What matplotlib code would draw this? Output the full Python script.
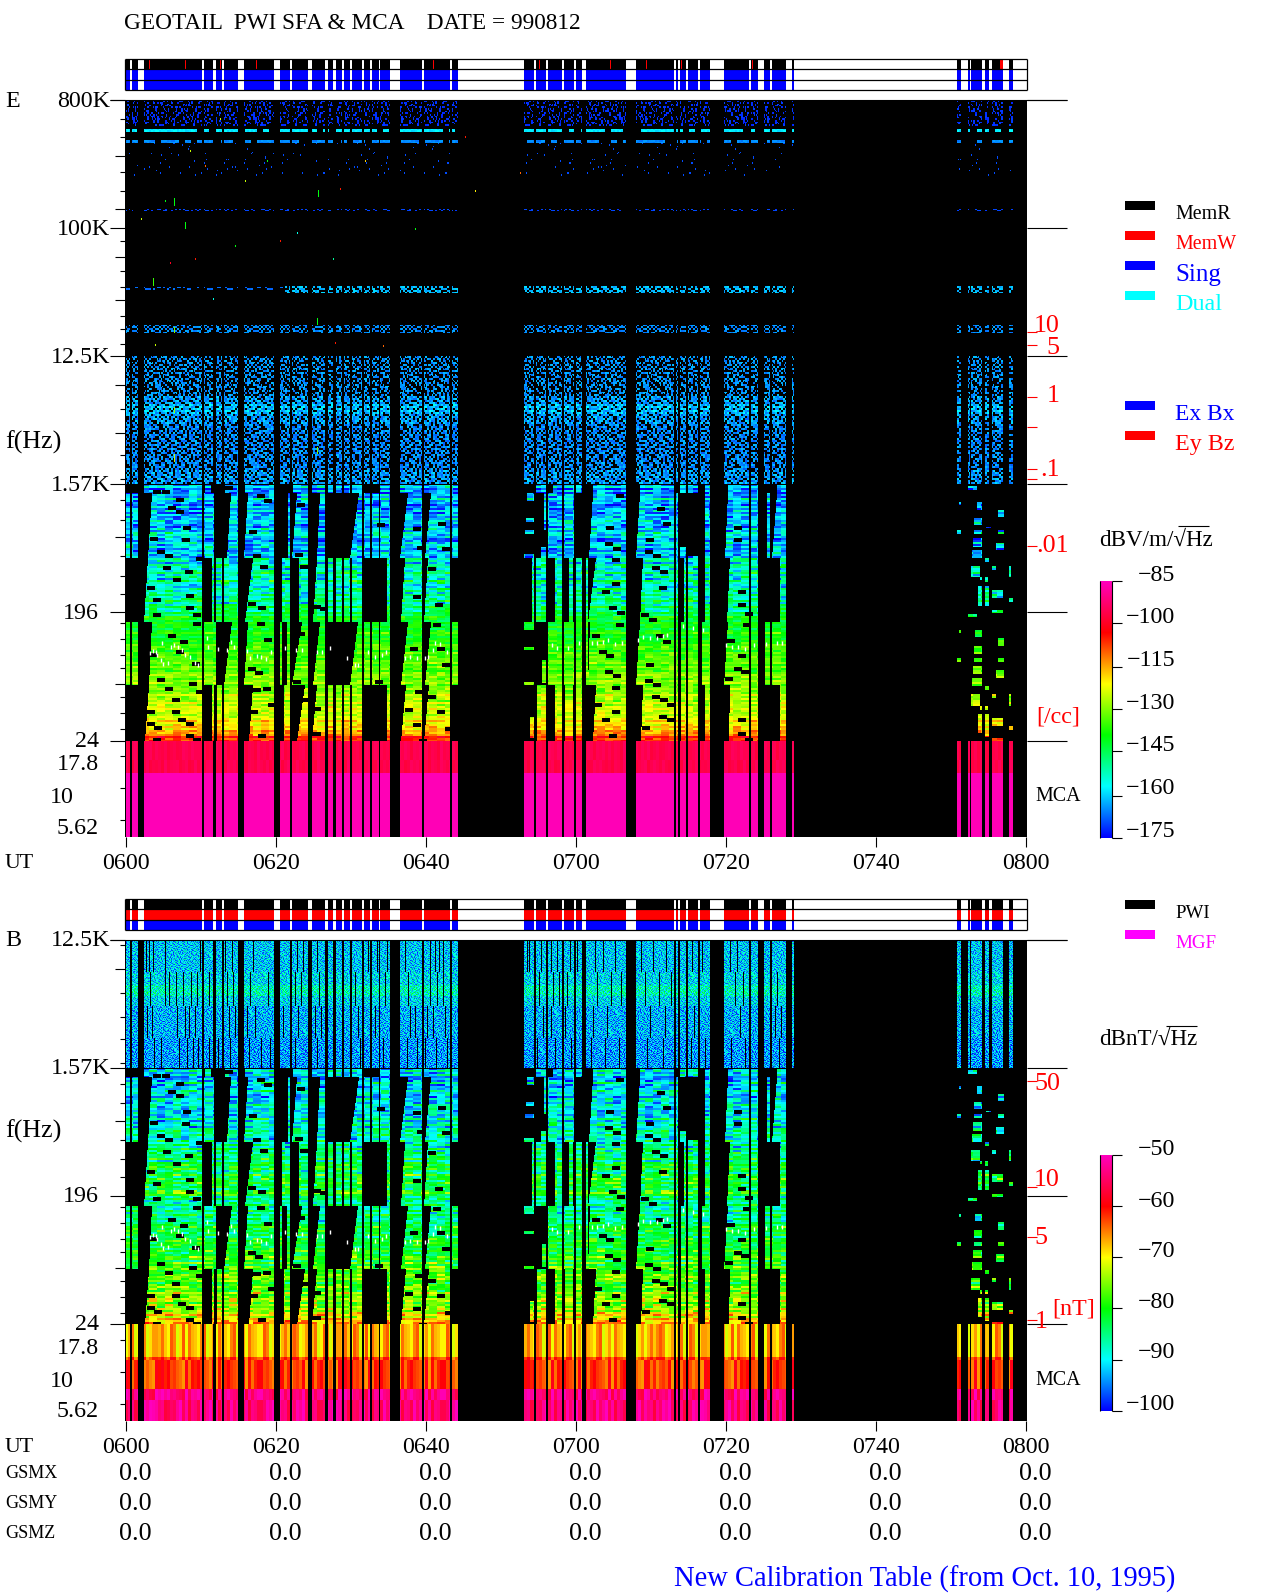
#!/usr/bin/env python3
"""GEOTAIL PWI SFA & MCA daily spectrogram, 990812 (two panels: E and B)."""
import numpy as np
import matplotlib
matplotlib.use("Agg")
import matplotlib.pyplot as plt
from matplotlib.colors import LinearSegmentedColormap

FONT = ["Liberation Serif", "DejaVu Serif"]

# one column = one 8 s sample, 0 = 0600 UT, 900 = 0800 UT
# telemetry on-intervals read off the MCA strips
on_first = [(1, 4), (7, 12), (19, 76), (79, 87), (91, 96), (99, 112), (119, 148), (155, 156),
            (157, 164), (167, 182), (187, 199), (203, 207), (211, 216), (219, 224), (227, 236),
            (239, 244), (247, 253), (255, 264), (275, 296), (299, 324), (327, 332)]
on_second = [(399, 408), (411, 420), (423, 436), (439, 448), (451, 456), (461, 462), (463, 500),
             (511, 548), (551, 552), (555, 560), (563, 572), (575, 584), (599, 623), (626, 632),
             (639, 644), (647, 660), (667, 668)]
on_third = [(832, 833), (834, 835), (843, 844), (846, 851), (852, 853), (854, 856), (860, 863),
            (867, 870), (871, 877), (884, 885), (886, 887)]
memw_cols = [24, 60, 95, 131, 308, 414, 485, 521, 556, 627, 875]

# sweep availability below 1.57K, per tier: (start_top, start_bottom, end) or (start, end)
tier_rows = [(485, 493), (493, 558), (558, 622), (622, 685), (685, 741)]
tier0 = [(19, 76), (80, 85), (100, 112), (120, 148), (168, 182), (187, 199), (203, 207),
         (211, 216), (219, 224), (227, 236), (255, 264), (275, 296), (299, 324), (327, 332),
         (411, 420), (428, 436), (439, 448), (451, 456), (468, 500), (515, 548), (555, 560),
         (563, 572), (580, 584), (603, 623), (626, 632), (652, 660)]
tier1 = [(1, 4), (7, 12), (27, 23, 76), (79, 88), (106, 102, 112), (123, 119, 148), (163, 164),
         (172, 167, 182), (195, 192, 199), (234, 225, 236), (239, 244), (247, 253), (255, 264),
         (283, 275, 296), (306, 300, 324), (327, 332),
         (423, 436), (439, 448), (468, 464, 500), (515, 511, 548), (551, 552), (580, 584),
         (603, 600, 623), (626, 632), (642, 644), (652, 647, 660)]
tier2 = [(23, 19, 76), (87, 88), (91, 96), (99, 112), (128, 120, 148), (157, 164), (174, 182),
         (192, 188, 199), (203, 207), (211, 216), (219, 224), (227, 236), (262, 264),
         (280, 276, 296), (303, 299, 324),
         (407, 408), (411, 420), (430, 436), (444, 447), (451, 456), (461, 462), (471, 463, 500),
         (518, 515, 548), (551, 552), (559, 560), (563, 572), (580, 584), (605, 602, 623),
         (626, 632), (655, 660)]
tier3 = [(1, 4), (7, 12), (27, 24, 76), (79, 90), (107, 99, 112), (123, 119, 148), (155, 156),
         (162, 164), (177, 167, 182), (195, 188, 199), (233, 225, 236), (239, 244), (247, 253),
         (255, 264), (283, 276, 296), (306, 300, 324), (327, 332),
         (423, 436), (439, 448), (451, 456), (461, 462), (465, 463, 500), (515, 511, 548),
         (551, 552), (556, 560), (563, 572), (577, 584), (603, 599, 623), (626, 632),
         (640, 644), (647, 660)]
tier4 = [(24, 20, 76), (87, 88), (92, 96), (99, 112), (128, 124, 148), (159, 164), (180, 172, 182),
         (192, 187, 199), (203, 207), (211, 216), (219, 224), (227, 236), (262, 264),
         (281, 276, 296), (304, 299, 324),
         (412, 420), (430, 436), (440, 447), (451, 456), (471, 468, 500), (518, 516, 548),
         (551, 552), (556, 560), (563, 572), (580, 584), (605, 604, 623), (626, 632), (655, 660)]
sweep_tiers = [tier0, tier1, tier2, tier3, tier4]

# isolated sweep blocks: col0, col1, row0, row1 (rows in E panel pixels)
sweep_blocks = [(402, 408, 493, 501), (401, 408, 518, 522), (400, 408, 530, 534), (399, 408, 554, 558),
                (419, 420, 493, 530), (416, 420, 547, 558), (555, 560, 547, 558), (563, 572, 556, 558),
                (399, 408, 622, 630), (399, 408, 647, 650), (399, 408, 682, 685), (417, 420, 660, 683),
                (405, 408, 717, 738),
                (843, 851, 486, 490), (852, 856, 502, 510), (834, 835, 502, 505), (873, 878, 510, 517),
                (849, 856, 518, 525), (861, 865, 527, 528), (832, 835, 530, 534), (849, 856, 530, 534),
                (873, 878, 530, 534), (848, 856, 538, 547), (871, 878, 543, 550), (847, 856, 550, 558),
                (860, 863, 558, 562), (846, 854, 566, 577), (867, 870, 566, 570), (884, 885, 566, 577),
                (855, 856, 577, 580), (860, 862, 577, 582), (853, 856, 586, 606), (860, 863, 586, 606),
                (867, 877, 590, 598), (867, 877, 610, 613), (884, 887, 598, 602),
                (843, 851, 614, 617), (834, 835, 630, 633), (850, 856, 630, 637), (873, 878, 638, 646),
                (849, 856, 646, 654), (832, 835, 658, 662), (849, 856, 658, 662), (873, 878, 658, 662),
                (848, 856, 666, 674), (871, 878, 670, 678), (847, 856, 678, 686), (860, 863, 686, 690),
                (846, 854, 694, 706), (867, 870, 694, 698), (884, 885, 694, 706), (855, 856, 706, 710),
                (860, 862, 706, 710), (853, 856, 714, 733), (860, 863, 714, 737), (867, 877, 718, 726),
                (867, 877, 738, 741), (884, 887, 726, 730)]

# small telemetry dropouts in the sweep: col, row (each about 8 x 4 pixels)
dropout_cols = [28, 37, 51, 43, 51, 58, 25, 57, 32, 40, 71, 38, 60, 48, 22, 61, 28, 61, 28, 68,
                68, 43, 55, 51, 25, 67, 32, 64, 40, 71, 47, 22, 47, 53, 22, 61, 29, 61, 28, 68,
                132, 139, 124, 128, 135, 123, 133, 132, 139, 123, 130, 128, 138, 143, 125, 133,
                288, 313, 317, 292, 303, 288, 310, 308, 312, 285, 317, 290, 303, 312, 280, 288, 320, 294,
                100, 172, 170, 175, 172, 168, 177, 188, 195, 188, 188, 252, 250,
                491, 481, 480, 488, 487, 487, 477, 484, 492, 491, 467, 474, 481, 480, 488, 487, 469, 487, 477, 484,
                532, 538, 521, 520, 528, 527, 535, 534, 516, 524, 531, 538, 521, 520, 528, 527, 535, 542, 534, 542, 517,
                609, 609, 613, 613, 620, 618, 602, 613, 609, 616, 600, 613, 613, 620]
dropout_rows = [490, 490, 498, 506, 510, 526, 537, 538, 550, 554, 557, 566, 570, 578, 586, 594, 598, 606, 613, 613,
                622, 634, 640, 650, 653, 662, 678, 682, 687, 690, 698, 710, 710, 718, 722, 722, 726, 734, 738, 738,
                494, 499, 530, 554, 565, 602, 606, 622, 638, 667, 671, 688, 687, 703, 710, 734,
                527, 522, 547, 546, 567, 595, 603, 623, 647, 647, 663, 690, 695, 710, 708, 723, 727, 739,
                486, 503, 553, 565, 632, 680, 698, 605, 607, 707, 732, 523, 680,
                494, 526, 542, 547, 558, 582, 590, 606, 611, 623, 634, 650, 654, 670, 674, 686, 703, 710, 718, 734,
                507, 522, 538, 550, 554, 566, 570, 586, 613, 618, 634, 640, 663, 679, 683, 695, 698, 703, 715, 718, 726,
                526, 538, 590, 603, 612, 623, 639, 654, 667, 670, 677, 718, 732, 738]

# mean level of the sweep, every 4 pixels from 1.57K down to 24 Hz [dB]
e_sweep_db = [-160, -163, -165, -160,
              -163, -166, -160, -164, -158, -165, -161, -163, -157, -162, -160, -156, -161, -158, -155,
              -157, -153, -158, -151, -155, -150, -154, -149, -152, -147, -150, -148, -146,
              -143, -141, -143, -139, -141, -138, -139, -137, -137, -135, -136, -133, -134, -132, -133, -131,
              -131, -131, -129, -130, -127, -128, -126, -126, -124, -124, -122, -121, -119, -116, -112, -106]
b_sweep_db = [-91, -89, -92, -89,
              -90, -91, -89, -91, -88, -90, -89, -90, -87, -89, -88, -87, -88, -86, -87,
              -86, -85, -87, -84, -85, -83, -84, -82, -83, -82, -81, -82, -80,
              -85, -86, -87, -85, -86, -84, -85, -83, -84, -82, -83, -81, -82, -80, -81, -80,
              -80, -80, -79, -79, -78, -78, -77, -77, -76, -76, -75, -74, -73, -72, -70, -68]

# texture only: single pixels cannot be recovered, so this table is typed by hand, not measured
speckle_tile = [
    "3807152946691875204913378256149937286514093128765049382716053",
    "7142690358817426035129749663502184960758271640935172849036125",
    "0596283147209563814350926781470292638974502968314075296381479",
    "6218475903342087599364118759436421075903164287509316428756963",
    "2970361584797136158029703665842970391854279036185427903618542",
    "8453109726145380972684131097968453209276854319072685431907268",
    "1386927450638692145013869874501326927054183692705418369270541",
    "9724065813072406581397940658139024065183927460518392746051839",
    "4061738295906173229540617082954861738925460138925460138925460",
    "5839214067283921406758392740675339214706538914706538914706538",
    "2615890734861599073426158307342015890374621589037462158903746",
    "7390546128139054612873305461287890546218793054621879305462187",
    "0948372561794837456109483125610348372651098437265109843726510",
    "6274108395027410839562741983956974108935672410893567241089356",
    "3581697204658169320435816072043181697024315869702431586970243",
    "8106423579310642757981064835798506423759861042375986104237598",
    "1759280346475928134617592303461259280436157928043615792804361",
    "4923765018892376201849237950184323765108429376510842937651084",
    "9467031852146703585294670718529067031582964703158296470315829"]

# thin black verticals above 1.57K in the B panel, one list per tier
b_thin_1 = [21, 24, 28, 40, 75, 90, 100, 107, 128, 172, 178, 192, 200, 210, 225, 243, 252, 262, 280, 305,
            310, 314, 318, 402, 404, 416, 426, 432, 445, 452, 470, 478, 490, 516, 528, 541, 567, 577, 605, 612]
b_thin_2 = [25, 40, 44, 51, 58, 66, 72, 84, 102, 108, 125, 143, 170, 176, 194, 230, 260, 283, 305, 312,
            318, 414, 428, 434, 442, 472, 486, 496, 520, 534, 546, 610, 618, 652]
b_thin_3 = [22, 27, 52, 60, 64, 70, 88, 104, 110, 122, 130, 158, 173, 190, 196, 233, 250, 285, 290, 302,
            308, 320, 418, 426, 440, 468, 482, 510, 525, 540, 569, 615, 650, 656]
b_thin_4 = [29, 36, 54, 62, 68, 73, 84, 93, 105, 124, 136, 145, 170, 192, 235, 258, 282, 292, 300, 311,
            322, 412, 430, 446, 466, 480, 494, 522, 538, 566, 580, 606, 620, 654]

# isolated bright specks in the E panel: col, row, height, dB
speck_cols = [49, 60, 193, 28, 49, 192, 49, 192, 49, 65, 80, 95, 142, 40, 120, 172, 215, 240, 16, 45, 110, 155, 290, 340, 70, 208, 210, 258, 350, 88, 30, 395]
speck_rows = [198, 222, 190, 278, 327, 318, 407, 447, 454, 150, 165, 118, 160, 200, 180, 232, 188, 160, 218, 262, 245, 240, 228, 136, 258, 258, 342, 345, 190, 298, 344, 172]
speck_high = [8, 7, 7, 8, 6, 7, 6, 7, 8, 2, 2, 2, 2, 2, 2, 2, 2, 2, 2, 2, 2, 2, 2, 2, 2, 2, 2, 2, 2, 2, 2, 2]
speck_db = [-140, -140, -140, -135, -130, -140, -128, -130, -125, -125, -110, -125, -140, -140, -125, -155, -105, -118, -125, -100, -140, -105, -140, -105, -105, -150, -105, -110, -120, -155, -125, -110]

# white plasma line dots (E rows, B rows are 584 lower)
white_cols = [25, 28, 31, 32, 37, 36, 38, 43, 46, 49, 53, 57, 60, 65, 70, 73, 82, 83, 93, 102, 106, 109,
              122, 125, 132, 136, 141, 146, 160, 171, 177, 192, 197, 205, 222, 230, 233, 243, 250, 257, 261,
              280, 285, 292, 300, 303, 308, 310, 315, 322,
              427, 432, 443, 454, 467, 472, 478, 483, 490, 497, 513, 518, 525, 532, 538, 542, 558, 568, 578,
              601, 607, 613, 620, 629, 641, 652, 657]
white_rows = [653, 651, 652, 655, 643, 660, 664, 663, 647, 645, 647, 650, 655, 657, 663, 665, 638, 647, 649, 650, 642, 647,
              651, 658, 656, 657, 659, 652, 648, 650, 650, 652, 652, 648, 658, 665, 665, 652, 657, 655, 652,
              658, 657, 658, 658, 657, 650, 643, 644, 652,
              645, 648, 648, 643, 643, 643, 642, 640, 644, 643, 640, 637, 638, 638, 636, 635, 626, 628, 630,
              645, 647, 647, 649, 645, 644, 643, 643]

# scales
time_labels = ["0600", "0620", "0640", "0700", "0720", "0740", "0800"]
e_freq_labels = ["800K", "100K", "12.5K", "1.57K", "196", "24", "17.8", "10", "5.62"]
b_freq_labels = ["12.5K", "1.57K", "196", "24", "17.8", "10", "5.62"]
e_db_ticks = [-85, -100, -115, -130, -145, -160, -175]
b_db_ticks = [-50, -60, -70, -80, -90, -100]
e_density_labels = ["10", "5", "1", ".1", ".01"]
b_field_labels = ["50", "10", "5", "1"]
e_minor_long = [156, 209, 257, 300, 385, 433, 537, 684]
e_minor_short = [119, 137, 172, 191, 241, 271, 287, 316, 329, 344, 409, 455, 479, 500, 520, 556, 576, 594,
                 623, 639, 655, 668, 697, 713, 729, 756, 788, 820]
b_minor_long = [969, 1121, 1268]
b_minor_short = [945, 993, 1017, 1039, 1063, 1084, 1103, 1140, 1159, 1177, 1207, 1223, 1239, 1252, 1281, 1297, 1313,
                 1340, 1372, 1404]

W = 902
X0 = 125.0
E_TOP, E_BOTTOM = 100, 837
B_TOP, B_BOTTOM = 940, 1421
B_SHIFT = 584

all_on = on_first + on_second + on_third
on_mask = np.zeros(W, dtype=bool)
for a, b in all_on:
    on_mask[a:b + 1] = True

tile = np.array([[int(c) for c in s] for s in speckle_tile])


def speckle(rows, cell_w, cell_h, shift=0):
    # look the hand typed tile up on a coarser grid, slid along on each repeat
    rr = rows // cell_h
    cc = np.arange(W) // cell_w
    nr, nc = tile.shape
    r_idx = (rr + shift) % nr
    c_idx = (cc[None, :] + 7 * (rr[:, None] // nr) + shift) % nc
    return tile[r_idx[:, None], c_idx]


def sweep_mask():
    # rows 484..740 in E pixels
    rows = np.arange(484, 741)
    mask = np.zeros((len(rows), W), dtype=bool)
    for (y0, y1), tier in zip(tier_rows, sweep_tiers):
        for y in range(y0, y1):
            frac = (y - y0) / (y1 - y0)
            for item in tier:
                if len(item) == 2:
                    a, b = item
                else:
                    a = int(round(item[0] + (item[1] - item[0]) * frac))
                    b = item[2]
                mask[y - 484, a:b + 1] = True
    for c0, c1, y0, y1 in sweep_blocks:
        mask[y0 - 484:y1 - 484, c0:c1 + 1] = True
    for c, y in zip(dropout_cols, dropout_rows):
        mask[max(y - 484, 0):y - 480, c:c + 8] = False
    return mask


low_mask = sweep_mask()


def sweep_field(levels, gain_top, gain_low, shift):
    rows = np.arange(0, 257)
    base = np.array(levels + levels[-1:], dtype=float)[np.minimum(rows // 4, 64)]
    stripes = speckle(rows, 3, 2, shift)[:, :1]  # row wide stripes
    blocks = speckle(rows, 8, 2, shift + 11)     # 8 pixel sweep blocks
    coarse = speckle(rows, 8, 12, shift + 23)
    gain = np.where(rows < 128, gain_top, gain_low)[:, None]
    field = base[:, None] + gain * (0.7 * (stripes - 4.5) + 0.8 * (blocks - 4.5) + 0.5 * (coarse - 4.5))
    field[~low_mask] = np.nan
    return field


def build_e():
    img = np.full((E_BOTTOM - E_TOP, W), np.nan)
    rows = np.arange(E_TOP, E_BOTTOM)
    tex = speckle(rows, 2, 2)
    tex2 = speckle(rows, 1, 3, 29)
    dash = speckle(rows, 6, 4, 5)
    on = np.tile(on_mask, (len(rows), 1))

    def paint(y0, y1, keep, db, gain=0.6):
        sel = np.zeros_like(on)
        sel[y0 - E_TOP:y1 - E_TOP] = True
        sel &= on & keep
        img[sel] = (db + gain * tex)[sel]

    paint(100, 126, (tex >= 6) & (tex2 >= 3), -176.0)
    paint(129, 132, dash >= 2, -160.0, 0.4)
    paint(140, 143, dash >= 3, -167.0, 0.4)
    paint(143, 176, (tex == 9) & (tex2 >= 8), -175.0)
    paint(209, 211, tex >= 7, -175.0)
    late = np.zeros_like(on)
    late[:, 160:] = True
    paint(286, 293, (tex >= 4) & late, -168.0, 1.0)
    paint(287, 290, (tex >= 7) & ~late, -172.0)
    paint(325, 333, tex >= 5, -172.0, 1.0)
    paint(356, 396, (tex >= 5) & (tex2 >= 1), -174.0, 1.4)
    paint(396, 404, tex >= 3, -172.0, 1.4)
    paint(404, 414, tex >= 2, -169.0, 1.4)
    paint(414, 424, tex >= 3, -172.0, 1.4)
    paint(424, 470, tex >= 4, -174.0, 1.4)
    paint(470, 484, tex >= 3, -172.0, 1.4)

    for c, y, h, db in zip(speck_cols, speck_rows, speck_high, speck_db):
        img[y - E_TOP:y - E_TOP + h, c:c + 1] = db

    low = sweep_field(e_sweep_db, 2.2, 1.2, 0)
    img[484 - E_TOP:741 - E_TOP] = low

    # MCA strips
    strip = speckle(rows, 3, 40, 2)
    img[741 - E_TOP:773 - E_TOP] = (-97.5 + 0.35 * strip)[741 - E_TOP:773 - E_TOP]
    img[773 - E_TOP:] = -86.0
    img[741 - E_TOP:, ~on_mask] = np.nan
    return img


def build_b():
    img = np.full((B_BOTTOM - B_TOP, W), np.nan)
    rows = np.arange(B_TOP, B_BOTTOM)
    tex = speckle(rows, 1, 1, 17)
    tiers = [(940, 972, -98.0, b_thin_1), (972, 1006, -97.0, b_thin_2),
             (1006, 1038, -99.0, b_thin_3), (1038, 1068, -100.0, b_thin_4)]
    for y0, y1, db, thin in tiers:
        part = img[y0 - B_TOP:y1 - B_TOP]
        part[:] = (db + 1.4 * tex)[y0 - B_TOP:y1 - B_TOP]
        part[:, thin] = np.nan
    img[985 - B_TOP:996 - B_TOP] += 3.0
    img[1068 - B_TOP:1325 - B_TOP] = sweep_field(b_sweep_db, 1.3, 1.2, 31)[:257]

    strip = speckle(rows, 3, 40, 9)
    img[1324 - B_TOP:1357 - B_TOP] = (-71.5 + 0.9 * strip)[1324 - B_TOP:1357 - B_TOP]
    img[1357 - B_TOP:1389 - B_TOP] = (-66.0 + 0.8 * strip)[1357 - B_TOP:1389 - B_TOP]
    img[1389 - B_TOP:] = (-57.0 + 0.8 * strip)[1389 - B_TOP:]
    off_low = np.where(~on_mask)[0]
    img[:1068 - B_TOP, off_low] = np.nan
    img[1324 - B_TOP:, off_low] = np.nan
    return img


def px(size):
    return size * 72.0 / 100.0


def label(ax, x, y, s, color="black", size=24, ha="center"):
    ax.text(x, y, s, color=color, fontsize=px(size), ha=ha, va="center_baseline", family=FONT)


def status_bar(ax, top, colors, memw=False):
    row_h = 10.3
    spans = [(X0 + a, b - a + 1) for a, b in all_on]
    for i, color in enumerate(colors):
        ax.broken_barh(spans, (top + i * row_h, row_h), facecolors=color, linewidth=0)
    if memw:
        ax.broken_barh([(X0 + c, 3 if c == 875 else 1) for c in memw_cols], (top, row_h),
                       facecolors="#ff0000", linewidth=0)
    ax.hlines([top + i * row_h for i in range(4)], X0, X0 + W, color="black", lw=0.9)
    ax.vlines([X0, X0 + W], top, top + 3 * row_h, color="black", lw=0.9)


def colorbar(ax, top, bottom, vmin, vmax, ticks, tick_rows, label_rows):
    grad = np.linspace(vmax, vmin, 256)[:, None]
    ax.imshow(grad, cmap=cmap, vmin=vmin, vmax=vmax, aspect="auto", extent=(1100, 1112, bottom, top),
              interpolation="bilinear")
    ax.vlines([1100, 1112], top, bottom, color="black", lw=0.8)
    ax.hlines(tick_rows, 1112, 1122, color="black", lw=0.8)
    for t, y in zip(ticks, label_rows):
        label(ax, 1175, y, "\u2212%d" % abs(t), ha="right")


def legend_row(ax, y, color, name, size):
    ax.broken_barh([(1125, 30)], (y - 4, 9), facecolors=color, linewidth=0)
    label(ax, 1175, y + 7, name, color=color, ha="left", size=size)


cmap = LinearSegmentedColormap.from_list(
    "pwi", ["#0000ff", "#00ffff", "#00ff00", "#ffff00", "#ff0000", "#ff00be"], N=256)
cmap.set_bad("black")

fig = plt.figure(figsize=(12.8, 15.93), dpi=100, facecolor="white")
ax = fig.add_axes([0, 0, 1, 1])

ax.imshow(build_e(), cmap=cmap, vmin=-175, vmax=-85, aspect="auto", interpolation="nearest",
          extent=(X0, X0 + W, E_BOTTOM, E_TOP))
ax.imshow(build_b(), cmap=cmap, vmin=-100, vmax=-50, aspect="auto", interpolation="nearest",
          extent=(X0, X0 + W, B_BOTTOM, B_TOP))
ax.vlines(X0 + np.array(white_cols), np.array(white_rows) - 2, np.array(white_rows) + 2, color="white", lw=1.0)
ax.vlines(X0 + np.array(white_cols), np.array(white_rows) + B_SHIFT - 2, np.array(white_rows) + B_SHIFT + 2,
          color="white", lw=1.0)

status_bar(ax, 59, ["black", "#0000ff", "#0000ff"], memw=True)
status_bar(ax, 899, ["black", "#ff0000", "#0000ff"])

# frequency axes
e_major = [100, 228, 356, 484, 612, 741]
ax.hlines(e_major, 110, 125, color="black", lw=0.8)
ax.hlines(e_major, 1027, 1067, color="black", lw=0.8)
ax.hlines(100, 110, 1067, color="black", lw=0.8)
ax.hlines(e_minor_long, 115, 125, color="black", lw=0.8)
ax.hlines(e_minor_short, 120, 125, color="black", lw=0.8)
b_major = [940, 1068, 1196, 1324]
ax.hlines(b_major, 110, 125, color="black", lw=0.8)
ax.hlines(b_major, 1027, 1067, color="black", lw=0.8)
ax.hlines(940, 110, 1067, color="black", lw=0.8)
ax.hlines(b_minor_long, 115, 125, color="black", lw=0.8)
ax.hlines(b_minor_short, 120, 125, color="black", lw=0.8)

for name, y, right in zip(e_freq_labels, [99, 227, 355, 483, 611, 739, 762, 795, 826],
                          [110, 110, 110, 110, 99, 99, 99, 74, 99]):
    label(ax, right, y, name, ha="right")
for name, y, right in zip(b_freq_labels, [938, 1066, 1194, 1322, 1346, 1379, 1409],
                          [110, 110, 99, 99, 99, 74, 99]):
    label(ax, right, y, name, ha="right")

tick_x = X0 + 1 + np.arange(len(time_labels)) * 150
ax.vlines(tick_x, E_BOTTOM, 847, color="black", lw=0.8)
ax.vlines(tick_x, B_BOTTOM, 1431, color="black", lw=0.8)
for x, name in zip(tick_x, time_labels):
    label(ax, x, 861, name)
    label(ax, x, 1445, name)
    for y in (1472, 1502, 1532):
        label(ax, x + 9, y, "0.0", size=26)

label(ax, 5, 99, "E", ha="left")
label(ax, 5, 938, "B", ha="left")
label(ax, 5, 440, "f(Hz)", ha="left", size=26)
label(ax, 5, 1129, "f(Hz)", ha="left", size=26)
label(ax, 5, 861, "UT", ha="left", size=22)
label(ax, 5, 1445, "UT", ha="left", size=22)
for y, name in zip((1472, 1502, 1532), ("GSMX", "GSMY", "GSMZ")):
    label(ax, 5, y, name, ha="left", size=18)

label(ax, 124, 21, "GEOTAIL  PWI SFA & MCA    DATE = 990812", ha="left", size=23.3)
label(ax, 674, 1576, "New Calibration Table (from Oct. 10, 1995)", color="#0000ff", ha="left", size=28.5)

# density and field scales on the right
ax.hlines([332, 345, 397, 427, 469, 479, 546], 1027, 1037, color="#ff0000", lw=0.8)
for name, x, y in zip(e_density_labels, [1047, 1053, 1053, 1050, 1052], [323, 345, 394, 467, 544]):
    label(ax, x, y, name, color="#ff0000", size=26)
label(ax, 1058, 714, "[/cc]", color="#ff0000", size=24)
label(ax, 1058, 794, "MCA", size=20)
ax.hlines([1081, 1187, 1237, 1320], 1027, 1037, color="#ff0000", lw=0.8)
for name, x, y in zip(b_field_labels, [1047, 1047, 1041, 1041], [1082, 1178, 1235, 1319]):
    label(ax, x, y, name, color="#ff0000", size=26)
label(ax, 1074, 1307, "[nT]", color="#ff0000", size=24)
label(ax, 1058, 1378, "MCA", size=20)

# legends
legend_row(ax, 205, "black", "MemR", 20)
legend_row(ax, 235, "#ff0000", "MemW", 20)
legend_row(ax, 265, "#0000ff", "Sing", 25)
legend_row(ax, 295, "#00ffff", "Dual", 24)
legend_row(ax, 405, "#0000ff", "Ex Bx", 23.5)
legend_row(ax, 435, "#ff0000", "Ey Bz", 24)
legend_row(ax, 904, "black", "PWI", 19)
legend_row(ax, 934, "#ff00ff", "MGF", 19)

label(ax, 1099, 538, "dBV/m/\u221aHz", ha="left", size=23)
ax.hlines(526, 1178, 1209, color="black", lw=0.8)
label(ax, 1099, 1037, "dBnT/\u221aHz", ha="left", size=23)
ax.hlines(1026, 1166, 1197, color="black", lw=0.8)

colorbar(ax, 581, 838, -175, -85, e_db_ticks, [581, 623, 667, 709, 751, 796, 838],
         [573, 615, 658, 701, 743, 786, 829])
colorbar(ax, 1155, 1411, -100, -50, b_db_ticks, [1155, 1206, 1257, 1308, 1360, 1411],
         [1147, 1199, 1249, 1300, 1350, 1402])

ax.set_xlim(0, 1280)
ax.set_ylim(1593, 0)
ax.axis("off")
fig.savefig("out.png", dpi=100, facecolor="white")
plt.close(fig)
